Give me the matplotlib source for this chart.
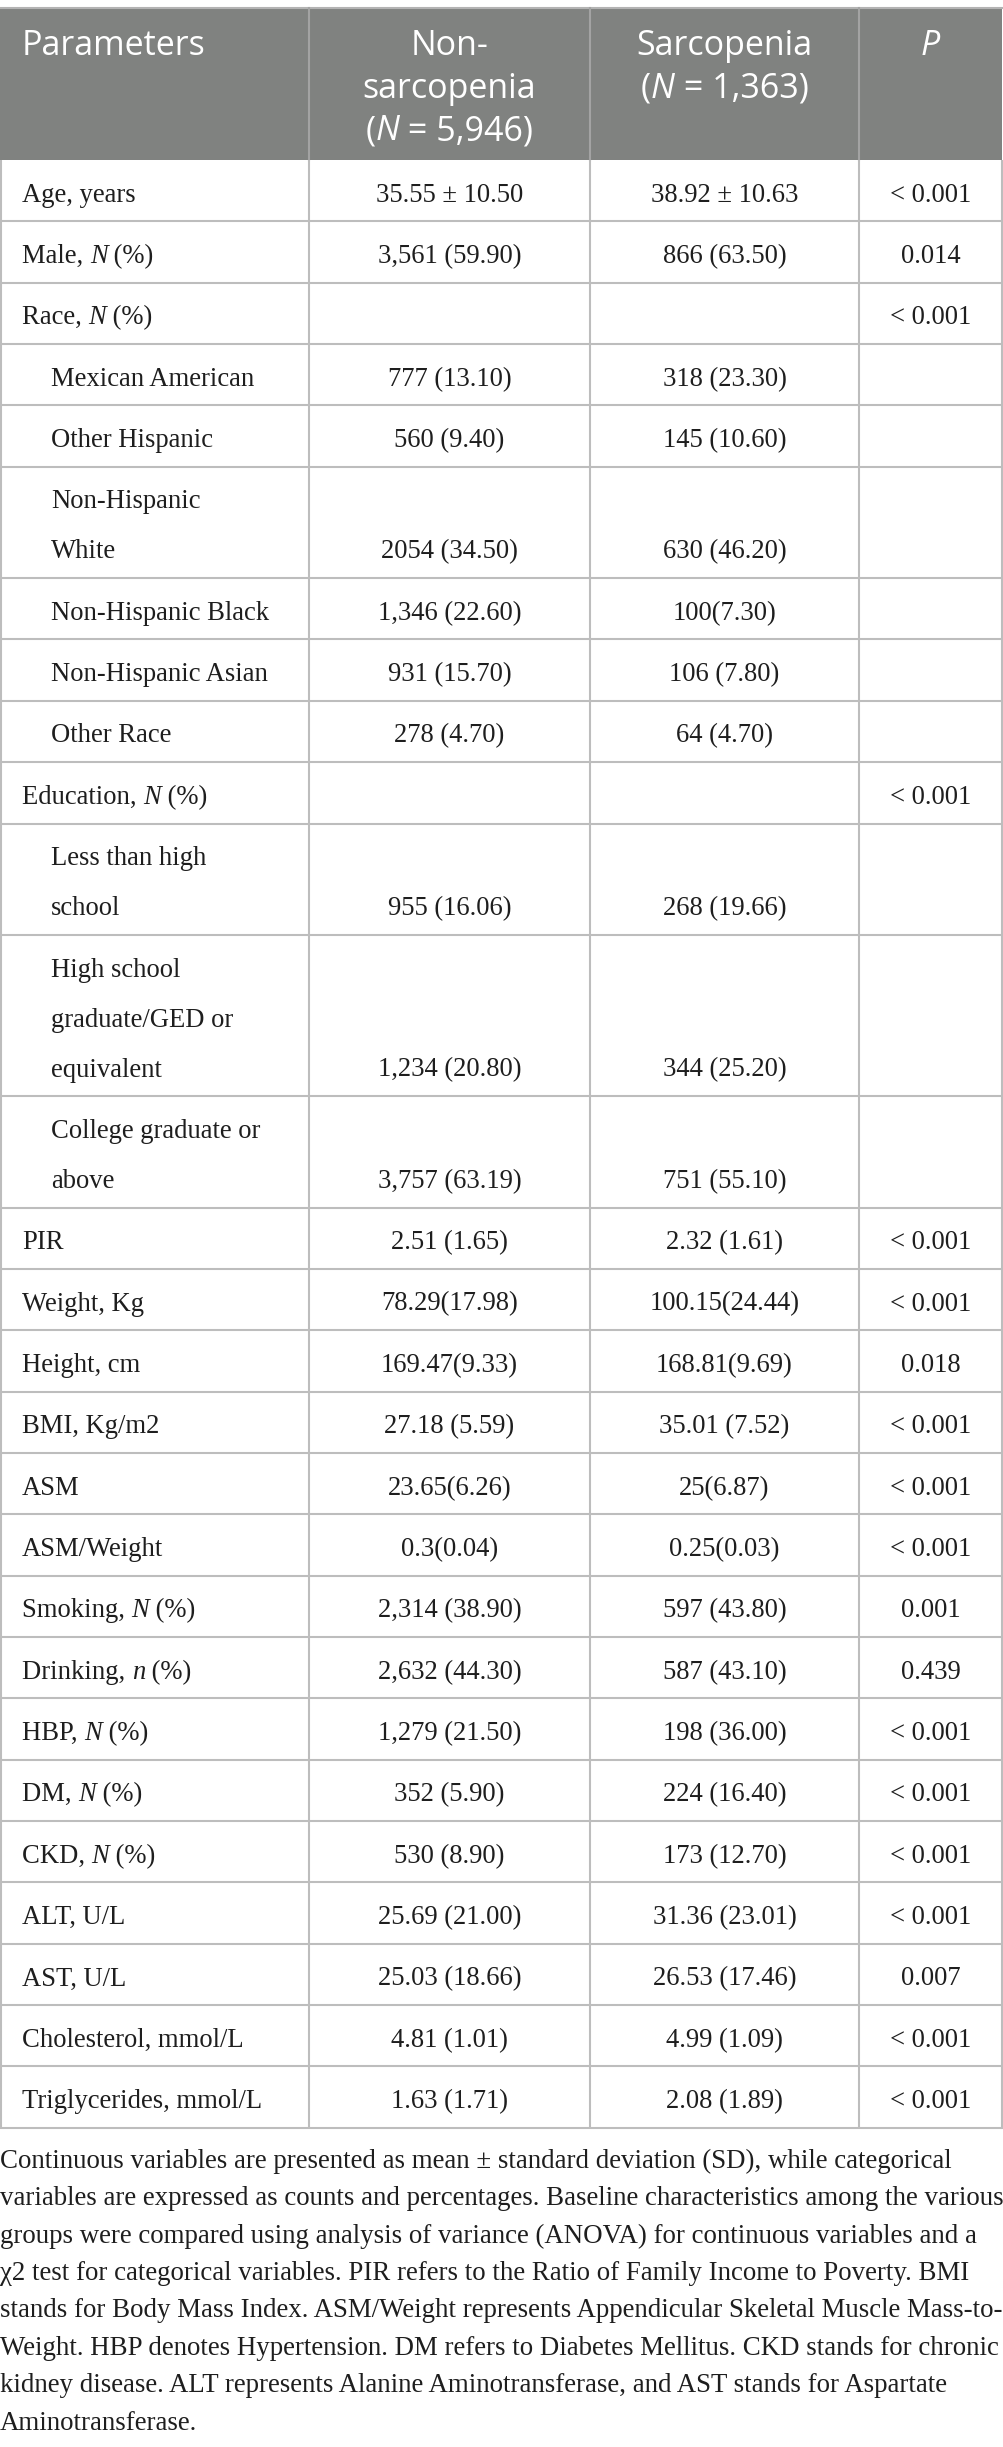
import matplotlib
matplotlib.use("Agg")
import matplotlib.pyplot as plt
from matplotlib.patches import Rectangle

# ---- table content ----
headers = ["Parameters", "Non-\nsarcopenia\n(*N* = 5,946)", "Sarcopenia\n(*N* = 1,363)", "*P*"]

labels = [
    "Age, years", "Male, *N* (%)", "Race, *N* (%)",
    "Mexican American", "Other Hispanic", "Non-Hispanic\nWhite",
    "Non-Hispanic Black", "Non-Hispanic Asian", "Other Race",
    "Education, *N* (%)",
    "Less than high\nschool", "High school\ngraduate/GED or\nequivalent",
    "College graduate or\nabove",
    "PIR", "Weight, Kg", "Height, cm", "BMI, Kg/m2", "ASM", "ASM/Weight",
    "Smoking, *N* (%)", "Drinking, *n* (%)", "HBP, *N* (%)", "DM, *N* (%)",
    "CKD, *N* (%)", "ALT, U/L", "AST, U/L", "Cholesterol, mmol/L",
    "Triglycerides, mmol/L",
]
indented = [False, False, False, True, True, True, True, True, True, False,
            True, True, True, False, False, False, False, False, False,
            False, False, False, False, False, False, False, False, False]
non_sarcopenia = [
    "35.55 ± 10.50", "3,561 (59.90)", "", "777 (13.10)", "560 (9.40)",
    "2054 (34.50)", "1,346 (22.60)", "931 (15.70)", "278 (4.70)", "",
    "955 (16.06)", "1,234 (20.80)", "3,757 (63.19)", "2.51 (1.65)",
    "78.29(17.98)", "169.47(9.33)", "27.18 (5.59)", "23.65(6.26)",
    "0.3(0.04)", "2,314 (38.90)", "2,632 (44.30)", "1,279 (21.50)",
    "352 (5.90)", "530 (8.90)", "25.69 (21.00)", "25.03 (18.66)",
    "4.81 (1.01)", "1.63 (1.71)",
]
sarcopenia = [
    "38.92 ± 10.63", "866 (63.50)", "", "318 (23.30)", "145 (10.60)",
    "630 (46.20)", "100(7.30)", "106 (7.80)", "64 (4.70)", "",
    "268 (19.66)", "344 (25.20)", "751 (55.10)", "2.32 (1.61)",
    "100.15(24.44)", "168.81(9.69)", "35.01 (7.52)", "25(6.87)",
    "0.25(0.03)", "597 (43.80)", "587 (43.10)", "198 (36.00)",
    "224 (16.40)", "173 (12.70)", "31.36 (23.01)", "26.53 (17.46)",
    "4.99 (1.09)", "2.08 (1.89)",
]
p_values = [
    "< 0.001", "0.014", "< 0.001", "", "", "", "", "", "", "< 0.001",
    "", "", "", "< 0.001", "< 0.001", "0.018", "< 0.001", "< 0.001",
    "< 0.001", "0.001", "0.439", "< 0.001", "< 0.001", "< 0.001",
    "< 0.001", "0.007", "< 0.001", "< 0.001",
]
footnote = [
    "Continuous variables are presented as mean ± standard deviation (SD), while categorical",
    "variables are expressed as counts and percentages. Baseline characteristics among the various",
    "groups were compared using analysis of variance (ANOVA) for continuous variables and a",
    "χ2 test for categorical variables. PIR refers to the Ratio of Family Income to Poverty. BMI",
    "stands for Body Mass Index. ASM/Weight represents Appendicular Skeletal Muscle Mass-to-",
    "Weight. HBP denotes Hypertension. DM refers to Diabetes Mellitus. CKD stands for chronic",
    "kidney disease. ALT represents Alanine Aminotransferase, and AST stands for Aspartate",
    "Aminotransferase.",
]

# ---- layout (pixels) ----
W, H = 1004, 2447
col_edges = [1, 309, 590, 859, 1002]
header_top, header_bottom = 8, 160
row_h, extra_line = 61.35, 50.0
base_off = 41.7
body_font = ["Liberation Serif", "DejaVu Serif"]
head_font = ["Open Sans", "DejaVu Sans"]
body_size = 19.2
head_size = 24.5
text_color = "#1e1e1e"
line_color = "#bdbdbd"

fig = plt.figure(figsize=(W / 100, H / 100), dpi=100)
ax = fig.add_axes([0, 0, 1, 1])
ax.set_xlim(0, W)
ax.set_ylim(H, 0)
ax.axis("off")
renderer = fig.canvas.get_renderer()


def draw_runs(x, y, s, ha="left", **kw):
    # segments between '*' are italic
    parts = s.split("*")
    arts, widths = [], []
    for i, p in enumerate(parts):
        if not p:
            continue
        t = ax.text(0, y, p, ha="left", va="baseline",
                    style="italic" if i % 2 else "normal", **kw)
        arts.append(t)
        widths.append(t.get_window_extent(renderer).width)
    total = sum(widths)
    start = x - total / 2 if ha == "center" else x
    for t, w in zip(arts, widths):
        t.set_x(start)
        start += w


# header
ax.add_patch(Rectangle((0, header_top), col_edges[-1], header_bottom - header_top,
                       facecolor="#808280", edgecolor="none"))
ax.plot([0, col_edges[-1]], [header_top, header_top], color="#b3b3b3", lw=1.5)
for xe in col_edges[1:-1]:
    ax.plot([xe, xe], [header_top, header_bottom], color="#a3a3a3", lw=1.5)

head_base = [55, 97.5, 140]
for j, h in enumerate(headers):
    for k, line in enumerate(h.split("\n")):
        if j == 0:
            draw_runs(22, head_base[k], line, color="white",
                      family=head_font, fontsize=head_size)
        else:
            cx = (col_edges[j] + col_edges[j + 1]) / 2
            draw_runs(cx, head_base[k], line, ha="center", color="white",
                      family=head_font, fontsize=head_size)

# body rows
y = header_bottom
tops = []
for i, lab in enumerate(labels):
    n = lab.count("\n") + 1
    h = row_h + extra_line * (n - 1)
    tops.append(y)
    lx = 51 if indented[i] else 22
    for k, line in enumerate(lab.split("\n")):
        draw_runs(lx, y + base_off + extra_line * k, line, color=text_color,
                  family=body_font, fontsize=body_size)
    vy = y + base_off + extra_line * (n - 1)
    for j, val in enumerate([non_sarcopenia[i], sarcopenia[i], p_values[i]]):
        if val:
            cx = (col_edges[j + 1] + col_edges[j + 2]) / 2
            draw_runs(cx, vy, val, ha="center", color=text_color,
                      family=body_font, fontsize=body_size)
    y += h
table_bottom = y

for yy in tops[1:] + [table_bottom]:
    ax.plot([0, col_edges[-1] + 1], [yy, yy], color=line_color, lw=1.5,
            solid_capstyle="butt")
for xe in col_edges:
    ax.plot([xe, xe], [header_bottom, table_bottom], color=line_color, lw=1.5,
            solid_capstyle="butt")

# footnote
for k, line in enumerate(footnote):
    ax.text(0, table_bottom + 40 + 37.4 * k, line, ha="left", va="baseline",
            family=body_font, fontsize=19.4, color=text_color)

fig.savefig("out.png", dpi=100, facecolor="white")
